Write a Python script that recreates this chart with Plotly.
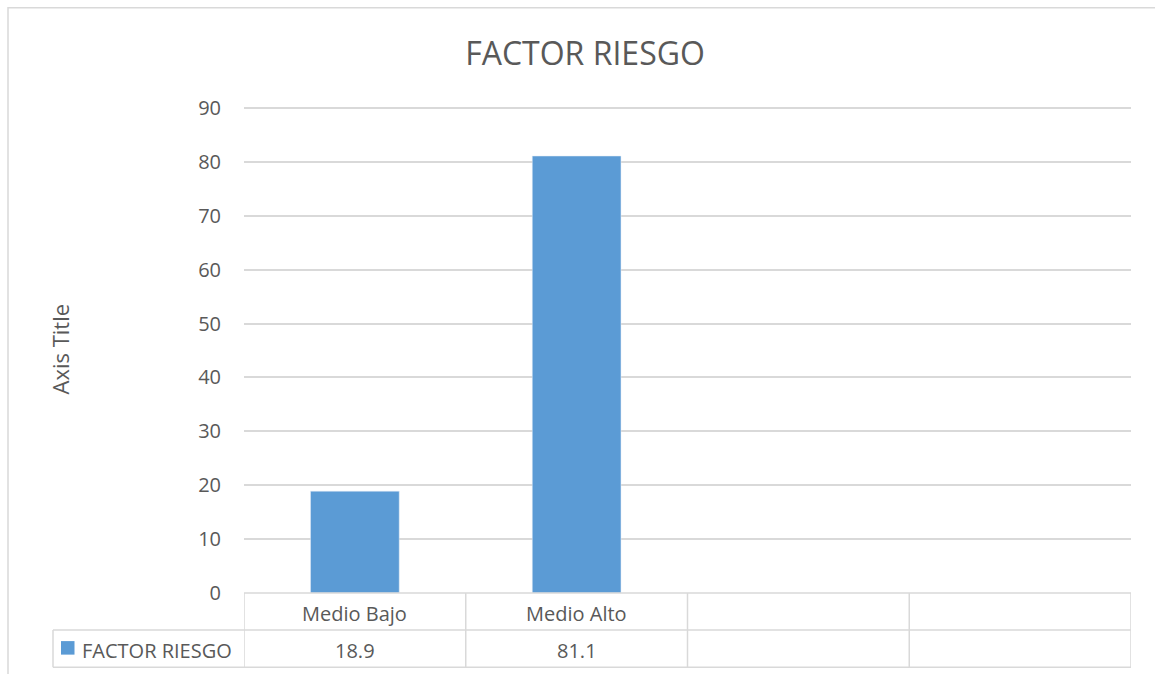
import plotly.graph_objects as go

title = "FACTOR RIESGO"
series_name = "FACTOR RIESGO"
categories = ["Medio Bajo", "Medio Alto", " ", "  "]
values = [18.9, 81.1]
value_labels = ["18.9", "81.1", "", ""]
y_title = "Axis Title"

BAR = "#5b9bd5"
GRID = "#d9d9d9"
TXT = "#595959"
FONT = "Open Sans, Lato, sans-serif"

fig = go.Figure()
fig.add_trace(go.Bar(x=categories[:2], y=values, marker_color=BAR, name=series_name,
                     showlegend=False))

W, H = 1155, 674
L, R, T, B = 244, 24, 108, 81
pw, ph = W - L - R, H - T - B

def px_x(px):
    return (px - L) / pw

def px_y(py):
    return (H - B - py) / ph

shapes = []
# outer chart border
shapes.append(dict(type="rect", xref="paper", yref="paper",
                   x0=px_x(8), x1=px_x(1165), y0=px_y(690), y1=px_y(9),
                   line=dict(color=GRID, width=1.5), layer="below"))
# table horizontal lines
row1 = px_y(630)
row2 = px_y(667)
shapes.append(dict(type="line", xref="x", yref="paper", x0=-0.5, x1=3.5, y0=0, y1=0,
                   line=dict(color=GRID, width=1.5)))
for yy in (row1, row2):
    shapes.append(dict(type="line", xref="paper", yref="paper", x0=px_x(53), x1=1,
                       y0=yy, y1=yy, line=dict(color=GRID, width=1.5)))
# table vertical lines
for i in range(len(categories) + 1):
    shapes.append(dict(type="line", xref="x", yref="paper", x0=i - 0.5, x1=i - 0.5,
                       y0=row2, y1=0, line=dict(color=GRID, width=1.5)))
shapes.append(dict(type="line", xref="paper", yref="paper", x0=px_x(53), x1=px_x(53),
                   y0=row2, y1=row1, line=dict(color=GRID, width=1.5)))
# legend key
shapes.append(dict(type="rect", xref="paper", yref="paper", x0=px_x(61), x1=px_x(74.5),
                   y0=px_y(654.5), y1=px_y(641), fillcolor=BAR, line=dict(width=0)))

annotations = []
for c in categories:
    annotations.append(dict(x=c, y=px_y(613), xref="x", yref="paper", text=c.strip(),
                            showarrow=False, yanchor="middle",
                            font=dict(size=20, color=TXT, family=FONT)))
for c, v in zip(categories, value_labels):
    annotations.append(dict(x=c, y=px_y(650), xref="x", yref="paper", text=v,
                            showarrow=False, yanchor="middle",
                            font=dict(size=20, color=TXT, family=FONT)))
annotations.append(dict(x=px_x(80), y=px_y(650), xref="paper", yref="paper",
                        text=series_name, showarrow=False, xanchor="left", yanchor="middle",
                        font=dict(size=20, color=TXT, family=FONT)))
annotations.append(dict(x=px_x(60), y=px_y(350), xref="paper", yref="paper",
                        text=y_title, showarrow=False, textangle=-90,
                        xanchor="center", yanchor="middle",
                        font=dict(size=22, color=TXT, family=FONT)))

fig.update_layout(
    width=W, height=H,
    margin=dict(l=L, r=R, t=T - 1, b=B, pad=0),
    paper_bgcolor="white", plot_bgcolor="white",
    title=dict(text=title, x=px_x(585), xanchor="center", y=1 - 54 / H, yanchor="middle",
               xref="paper", font=dict(size=32, color=TXT, family=FONT)),
    bargap=0.6,
    shapes=shapes,
    annotations=annotations,
    xaxis=dict(type="category", categoryorder="array", categoryarray=categories,
               range=[-0.5, 3.5], showticklabels=False, showgrid=False,
               zeroline=False, showline=False, ticks=""),
    yaxis=dict(range=[0, 90.2], tickvals=list(range(0, 91, 10)), showgrid=True,
               gridcolor=GRID, gridwidth=1.5,
               zeroline=False, showline=False, ticks="", ticklabelstandoff=22,
               tickfont=dict(size=20, color=TXT, family=FONT)),
)
fig.update_yaxes(automargin=False)

fig.write_html("out.html", config={"displayModeBar": False},
               post_script="document.body.style.margin='0px';document.body.style.overflow='hidden';")
